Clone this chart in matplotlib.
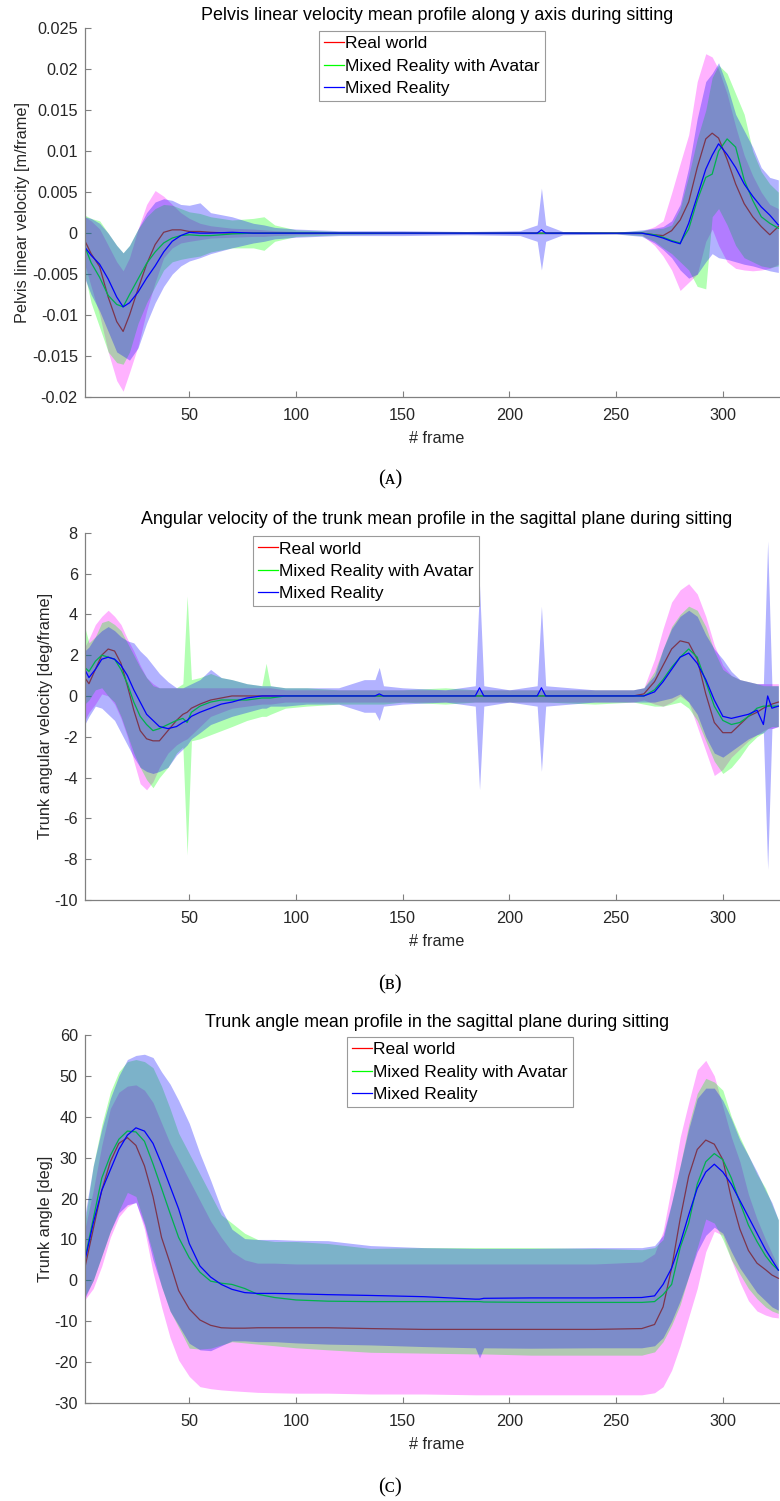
import numpy as np
import matplotlib
matplotlib.use('Agg')
import matplotlib.pyplot as plt

plt.rcParams['font.family'] = ['Liberation Sans', 'DejaVu Sans']

# ---------------------------------------------------------------
# (A) pelvis linear velocity along y, values in 1e-3 m/frame
# ---------------------------------------------------------------
frames_a = [1, 4, 8, 12, 16, 19, 22, 26, 30, 34,
            38, 42, 46, 50, 55, 60, 70, 80, 85, 90,
            100, 120, 150, 180, 205, 213, 215, 217, 225, 250,
            262, 268, 272, 276, 280, 284, 288, 292, 295, 298,
            302, 306, 310, 314, 318, 322, 326]

real_mean_a = [-0.9, -2.5, -4.1, -7.8, -10.8, -12.0, -10.0, -6.8, -3.8, -1.4,
               0.1, 0.4, 0.4, 0.2, 0.2, 0.1, 0.0, 0.0, 0.0, 0.0,
               0.0, 0.0, 0.0, 0.0, 0.0, 0.0, 0.0, 0.0, 0.0, 0.0,
               0.0, -0.2, -0.3, 0.3, 1.6, 3.8, 8.0, 11.5, 12.2, 11.6,
               9.0, 6.0, 3.6, 2.0, 0.8, -0.2, 0.8]
real_up_a = [2.0, 1.5, 0.5, -1.5, -3.5, -4.6, -3.0, 0.5, 3.5, 5.2,
             4.5, 3.5, 2.5, 1.8, 1.2, 0.9, 0.6, 0.5, 0.4, 0.3,
             0.2, 0.1, 0.1, 0.1, 0.1, 0.1, 0.1, 0.1, 0.1, 0.1,
             0.2, 0.8, 1.5, 4.9, 8.5, 12.0, 18.5, 21.9, 21.5, 20.0,
             17.0, 13.0, 9.5, 7.0, 5.0, 3.5, 3.0]
real_lo_a = [-3.8, -6.5, -10.0, -14.5, -18.0, -19.3, -17.0, -13.8, -9.5, -6.0,
             -3.0, -1.8, -1.2, -1.0, -0.8, -0.6, -0.5, -0.4, -0.4, -0.3,
             -0.2, -0.1, -0.1, -0.1, -0.1, -0.1, -0.1, -0.1, -0.1, -0.1,
             -0.2, -1.5, -2.8, -4.5, -7.0, -6.0, -5.0, -1.0, 0.5, -1.5,
             -3.5, -4.3, -4.5, -4.6, -4.5, -4.3, -3.8]

mra_mean_a = [-1.6, -3.6, -5.4, -7.6, -8.7, -9.0, -7.5, -5.6, -3.7, -2.3,
              -1.2, -0.6, -0.3, -0.2, -0.3, -0.3, -0.1, 0.0, 0.0, 0.0,
              0.0, 0.0, 0.0, 0.0, 0.0, 0.0, 0.0, 0.0, 0.0, 0.0,
              0.0, -0.2, -0.5, -0.9, -1.2, 0.5, 4.0, 6.8, 7.2, 10.0,
              11.5, 10.5, 6.5, 4.0, 2.0, 1.2, 0.6]
mra_up_a = [2.2, 1.8, 1.5, 0.0, -1.5, -2.4, -1.5, 0.5, 2.0, 3.0,
            3.5, 3.4, 3.0, 2.6, 2.4, 2.0, 1.6, 1.8, 2.0, 1.0,
            0.4, 0.2, 0.1, 0.1, 0.1, 0.1, 0.1, 0.1, 0.1, 0.1,
            0.3, 0.5, 0.6, 1.0, 3.0, 7.0, 11.5, 15.0, 19.0, 20.5,
            19.5, 17.0, 14.5, 10.0, 7.5, 6.0, 5.0]
mra_lo_a = [-5.0, -8.5, -11.5, -14.5, -15.8, -16.0, -14.5, -11.0, -8.5, -6.5,
            -4.5, -3.5, -3.2, -3.0, -2.8, -2.3, -1.8, -1.8, -2.1, -1.0,
            -0.4, -0.2, -0.1, -0.1, -0.1, -0.1, -0.1, -0.1, -0.1, -0.1,
            -0.3, -1.0, -1.8, -2.5, -3.5, -4.5, -6.5, -6.8, 2.0, 3.0,
            1.0, -1.5, -3.0, -3.5, -4.0, -4.2, -4.0]

mr_mean_a = [-1.7, -2.7, -3.8, -5.6, -7.8, -9.0, -8.5, -7.2, -5.5, -4.0,
             -2.3, -1.0, -0.3, 0.1, 0.0, 0.0, 0.1, 0.0, 0.0, 0.0,
             0.0, 0.0, 0.0, 0.0, 0.0, 0.0, 0.4, 0.0, 0.0, 0.0,
             0.0, -0.3, -0.6, -1.0, -1.3, 1.2, 4.5, 7.8, 9.5, 10.9,
             9.6, 8.0, 6.0, 4.5, 3.2, 2.2, 1.0]
mr_up_a = [2.0, 1.8, 1.2, 0.0, -1.5, -2.4, -1.5, 0.5, 2.5, 3.8,
           4.2, 4.0, 3.5, 3.4, 3.7, 2.5, 2.0, 1.2, 1.0, 0.7,
           0.5, 0.3, 0.3, 0.2, 0.3, 1.0, 5.5, 1.0, 0.2, 0.1,
           0.4, 0.6, 0.8, 1.5, 3.5, 8.0, 14.0, 18.5, 19.5, 20.8,
           18.0, 14.5, 12.5, 10.5, 8.0, 6.8, 6.5]
mr_lo_a = [-5.5, -7.5, -9.5, -12.0, -14.5, -15.0, -15.5, -14.0, -11.0, -8.5,
           -6.5, -5.0, -4.0, -3.4, -3.0, -2.5, -1.8, -1.2, -1.0, -0.7,
           -0.5, -0.3, -0.3, -0.2, -0.3, -1.0, -4.5, -1.0, -0.2, -0.1,
           -0.4, -1.2, -2.0, -3.0, -4.5, -5.5, -5.0, -3.5, -2.5, -3.0,
           -3.2, -3.5, -3.8, -4.0, -4.3, -4.6, -4.8]

# ---------------------------------------------------------------
# (B) trunk angular velocity, deg/frame
# ---------------------------------------------------------------
frames_b = [1, 3, 6, 9, 12, 15, 18, 21, 24, 27,
            30, 33, 36, 40, 44, 47, 49, 51, 55, 60,
            65, 70, 77, 84, 86, 88, 95, 105, 120, 132,
            137, 139, 141, 150, 170, 184, 186, 188, 200, 213,
            215, 217, 240, 258, 263, 268, 272, 276, 280, 284,
            288, 292, 296, 300, 304, 308, 312, 316, 319, 321,
            323, 326]

real_mean_b = [0.9, 0.6, 1.3, 2.0, 2.3, 2.2, 1.6, 0.5, -0.7, -1.7,
               -2.1, -2.2, -2.2, -1.7, -1.2, -0.9, -0.8, -0.6, -0.4, -0.2,
               -0.1, 0.0, 0.0, 0.0, 0.0, 0.0, 0.0, 0.0, 0.0, 0.0,
               0.0, 0.0, 0.0, 0.0, 0.0, 0.0, 0.0, 0.0, 0.0, 0.0,
               0.0, 0.0, 0.0, 0.0, 0.1, 0.7, 1.5, 2.3, 2.7, 2.6,
               1.8, 0.1, -1.3, -1.8, -1.8, -1.4, -1.0, -0.8, -0.6, -0.5,
               -0.4, -0.3]
real_up_b = [2.4, 2.8, 3.5, 3.9, 4.2, 3.9, 3.5, 2.8, 2.2, 1.5,
             0.9, 0.6, 0.4, 0.4, 0.4, 0.4, 0.4, 0.4, 0.4, 0.4,
             0.4, 0.4, 0.4, 0.4, 0.4, 0.4, 0.3, 0.3, 0.3, 0.3,
             0.3, 0.3, 0.3, 0.3, 0.3, 0.3, 0.3, 0.3, 0.3, 0.3,
             0.3, 0.3, 0.3, 0.3, 0.4, 1.8, 3.3, 4.6, 5.2, 5.5,
             5.0, 3.9, 2.5, 1.5, 1.0, 0.8, 0.7, 0.6, 0.6, 0.6,
             0.6, 0.6]
real_lo_b = [-1.2, -0.8, -0.4, 0.1, 0.0, -0.4, -1.1, -2.0, -3.2, -4.3,
             -4.6, -4.2, -3.5, -2.8, -2.4, -2.2, -2.1, -1.9, -1.5, -1.0,
             -0.8, -0.6, -0.5, -0.4, -0.4, -0.4, -0.3, -0.3, -0.3, -0.3,
             -0.3, -0.3, -0.3, -0.3, -0.3, -0.3, -0.3, -0.3, -0.3, -0.3,
             -0.3, -0.3, -0.3, -0.3, -0.2, -0.4, -0.5, -0.3, 0.0, -0.3,
             -1.5, -2.7, -3.9, -3.6, -3.0, -2.6, -2.2, -1.9, -1.7, -1.6,
             -1.6, -1.5]

mra_mean_b = [1.4, 1.2, 1.7, 2.0, 1.9, 1.8, 1.3, 0.6, -0.3, -1.0,
              -1.4, -1.7, -1.6, -1.4, -1.2, -1.1, -1.3, -0.8, -0.5, -0.3,
              -0.2, -0.2, -0.2, -0.1, -0.1, -0.1, 0.0, 0.0, 0.0, 0.0,
              0.0, 0.0, 0.0, 0.0, 0.0, 0.0, 0.0, 0.0, 0.0, 0.0,
              0.0, 0.0, 0.0, 0.0, 0.0, 0.3, 0.8, 1.4, 1.9, 2.3,
              1.9, 0.7, -0.5, -1.2, -1.4, -1.3, -1.0, -0.6, -0.5, -0.5,
              -0.5, -0.5]
mra_up_b = [3.4, 2.6, 2.9, 3.6, 3.7, 3.5, 3.2, 2.6, 2.0, 1.4,
            0.9, 0.5, 0.4, 0.4, 0.4, 0.6, 4.9, 0.8, 0.9, 1.1,
            0.9, 0.8, 0.6, 0.5, 1.6, 0.5, 0.4, 0.4, 0.3, 0.3,
            0.3, 0.3, 0.3, 0.3, 0.4, 0.3, 0.3, 0.3, 0.3, 0.3,
            0.3, 0.3, 0.3, 0.3, 0.4, 1.2, 2.3, 3.4, 4.0, 4.4,
            4.2, 3.4, 2.2, 1.3, 1.0, 0.8, 0.7, 0.6, 0.5, 0.5,
            0.5, 0.5]
mra_lo_b = [-0.4, -0.2, 0.3, 0.4, 0.0, -0.3, -1.0, -1.9, -2.8, -3.5,
            -4.1, -4.5, -4.0, -3.5, -2.8, -2.5, -7.8, -2.2, -2.1, -1.9,
            -1.7, -1.5, -1.2, -1.0, -1.0, -0.9, -0.6, -0.5, -0.4, -0.4,
            -0.4, -0.4, -0.4, -0.3, -0.4, -0.3, -0.3, -0.3, -0.3, -0.3,
            -0.3, -0.3, -0.4, -0.3, -0.4, -0.5, -0.5, -0.4, -0.3, -0.6,
            -1.2, -2.2, -3.2, -3.8, -3.5, -3.0, -2.4, -2.0, -1.8, -1.6,
            -1.5, -1.5]

mr_mean_b = [1.3, 0.9, 1.3, 1.8, 1.9, 1.8, 1.5, 1.0, 0.3, -0.3,
             -0.9, -1.2, -1.5, -1.6, -1.5, -1.3, -1.2, -1.0, -0.8, -0.6,
             -0.4, -0.3, -0.1, 0.0, 0.0, 0.0, 0.0, 0.0, 0.0, 0.0,
             0.0, 0.1, 0.0, 0.0, 0.0, 0.0, 0.4, 0.0, 0.0, 0.0,
             0.4, 0.0, 0.0, 0.0, 0.0, 0.2, 0.7, 1.3, 1.9, 2.1,
             1.6, 0.8, -0.2, -1.0, -1.1, -1.0, -0.9, -0.7, -1.4, 0.0,
             -0.6, -0.5]
mr_up_b = [2.2, 2.4, 2.9, 3.2, 3.4, 3.2, 2.9, 2.7, 2.6, 2.2,
           1.9, 1.5, 1.1, 0.7, 0.4, 0.4, 0.5, 0.6, 0.8, 1.3,
           0.9, 0.8, 0.6, 0.5, 0.5, 0.5, 0.4, 0.4, 0.4, 0.8,
           0.8, 1.4, 0.5, 0.4, 0.3, 0.5, 5.4, 0.5, 0.3, 0.5,
           4.4, 0.5, 0.3, 0.3, 0.4, 1.0, 2.3, 3.3, 3.9, 4.2,
           3.9, 3.0, 2.3, 1.8, 1.2, 0.8, 0.7, 0.6, 0.6, 7.6,
           0.5, 0.5]
mr_lo_b = [-1.4, -1.0, -0.5, -0.6, -0.9, -1.2, -1.8, -2.4, -3.0, -3.5,
           -3.7, -3.8, -3.7, -3.5, -2.9, -2.6, -2.4, -2.1, -1.8, -1.4,
           -1.2, -1.0, -0.8, -0.6, -0.6, -0.5, -0.5, -0.4, -0.4, -0.8,
           -0.8, -1.2, -0.5, -0.4, -0.3, -0.5, -4.6, -0.5, -0.3, -0.5,
           -3.7, -0.5, -0.3, -0.3, -0.3, -0.3, -0.2, -0.1, 0.1, -0.3,
           -0.9, -2.0, -2.8, -3.0, -2.7, -2.4, -2.1, -1.9, -1.8, -8.5,
           -1.6, -1.5]

# ---------------------------------------------------------------
# (C) trunk angle, deg
# ---------------------------------------------------------------
frames_c = [1, 5, 9, 13, 17, 21, 25, 29, 33, 37,
            41, 45, 50, 55, 60, 65, 70, 76, 82, 90,
            100, 115, 135, 160, 184, 186, 188, 210, 240, 262,
            268, 272, 276, 280, 284, 288, 292, 296, 300, 304,
            308, 312, 316, 320, 323, 326]

real_mean_c = [2.9, 12.5, 22.0, 29.0, 33.5, 34.9, 33.0, 28.0, 20.5, 10.5,
               4.2, -2.5, -7.0, -9.7, -11.0, -11.6, -11.7, -11.7, -11.6, -11.6,
               -11.6, -11.6, -11.8, -12.0, -12.0, -12.0, -12.0, -12.0, -12.0, -11.8,
               -10.8, -6.5, 3.0, 15.0, 25.5, 32.0, 34.3, 33.3, 29.5, 20.0,
               12.5, 7.3, 4.2, 2.6, 1.3, 0.5]
real_up_c = [12.3, 22.0, 33.0, 42.0, 46.0, 47.5, 47.8, 46.5, 43.5, 38.5,
             33.5, 29.5, 24.5, 19.5, 14.5, 10.5, 7.0, 5.0, 4.2, 4.2,
             4.0, 4.0, 4.0, 4.0, 4.0, 4.0, 4.0, 4.0, 4.0, 4.5,
             6.5, 12.0, 23.0, 35.0, 43.5, 51.5, 53.8, 50.0, 42.5, 35.0,
             29.0, 21.0, 15.0, 10.0, 6.6, 3.3]
real_lo_c = [-4.8, -2.0, 3.5, 10.5, 15.5, 18.0, 19.2, 12.5, 2.0, -6.5,
             -14.0, -19.5, -23.5, -26.0, -26.5, -26.8, -27.0, -27.2, -27.4, -27.5,
             -27.6, -27.6, -27.8, -27.8, -28.0, -28.0, -28.0, -28.0, -28.0, -28.0,
             -27.5, -26.0, -22.0, -16.0, -9.0, -2.0, 7.0, 12.0, 11.0, 5.0,
             -0.5, -5.0, -7.5, -8.5, -9.0, -9.2]

mra_mean_c = [5.0, 15.0, 25.0, 30.5, 34.5, 36.5, 36.3, 34.0, 28.5, 22.5,
              16.4, 10.5, 5.5, 2.0, -0.2, -0.7, -1.0, -2.0, -3.4, -4.2,
              -4.8, -5.1, -5.2, -5.2, -5.2, -5.2, -5.3, -5.4, -5.4, -5.4,
              -5.2, -3.5, -1.0, 8.0, 14.0, 23.5, 29.0, 31.0, 29.5, 25.0,
              19.0, 13.5, 9.5, 6.0, 4.0, 2.5]
mra_up_c = [13.9, 28.0, 38.0, 46.0, 51.0, 53.5, 54.0, 53.5, 52.0, 47.5,
            42.0, 36.0, 31.0, 26.0, 21.0, 16.0, 14.0, 11.5, 10.0, 9.5,
            9.5, 9.0, 7.8, 8.0, 8.0, 8.0, 8.0, 8.0, 7.8, 7.5,
            8.0, 10.0, 18.8, 28.0, 38.0, 45.7, 49.4, 48.5, 46.5, 40.0,
            35.0, 30.5, 26.0, 22.5, 18.5, 14.8]
mra_lo_c = [-4.0, 0.0, 6.0, 12.0, 17.0, 21.5, 20.5, 14.0, 6.5, -1.5,
            -7.5, -11.5, -16.6, -16.8, -16.6, -15.8, -15.0, -15.3, -15.6, -16.0,
            -16.5, -17.0, -17.6, -17.8, -18.0, -18.0, -18.0, -18.3, -18.3, -18.3,
            -17.5, -15.0, -11.0, -6.0, 1.0, 8.0, 15.0, 14.0, 10.0, 5.0,
            1.5, -2.0, -4.5, -6.5, -7.5, -8.1]

mr_mean_c = [4.6, 14.0, 22.0, 27.0, 32.0, 35.5, 37.3, 36.5, 33.5, 28.5,
             23.0, 17.5, 9.0, 3.5, 0.8, -1.0, -2.2, -3.0, -3.2, -3.2,
             -3.3, -3.5, -3.7, -4.0, -4.6, -4.6, -4.4, -4.3, -4.3, -4.2,
             -3.8, -1.0, 3.0, 9.0, 16.0, 22.5, 26.5, 28.4, 26.5, 23.5,
             19.5, 15.5, 11.5, 7.5, 5.0, 2.5]
mr_up_c = [15.6, 28.0, 37.0, 44.5, 50.0, 54.0, 55.0, 55.3, 54.5, 51.0,
           48.0, 44.0, 38.4, 31.0, 24.5, 17.5, 12.5, 10.2, 10.0, 10.0,
           9.8, 9.7, 8.5, 8.0, 7.8, 7.8, 7.8, 7.8, 8.0, 8.0,
           8.5, 11.0, 19.0, 28.0, 37.0, 44.5, 47.0, 47.0, 44.0, 39.5,
           34.3, 30.5, 26.5, 22.0, 19.0, 14.8]
mr_lo_c = [-4.4, 0.0, 6.0, 12.0, 16.5, 18.5, 19.0, 13.5, 5.0, -1.5,
           -7.5, -11.0, -15.4, -17.0, -17.2, -16.0, -14.8, -14.8, -15.0, -15.0,
           -15.3, -15.6, -15.8, -16.2, -16.5, -19.0, -16.5, -16.6, -16.5, -16.5,
           -16.0, -14.0, -10.0, -5.0, 1.0, 7.0, 11.0, 13.0, 11.5, 7.0,
           3.0, 0.0, -3.0, -5.0, -6.5, -7.3]

LABELS = ['Real world', 'Mixed Reality with Avatar', 'Mixed Reality']
LINE_COLORS = ['#ff0000', '#00ff00', '#0000ff']
FILL_COLORS = ['#ff00ff', '#00ff00', '#0000ff']
AXIS_GREY = '#808080'
TEXT_GREY = '#262626'
FS = 11.7

W, H = 780, 1501


def fig_rect(left_px, top_px, right_px, bottom_px):
    """pixel box -> figure fraction rect"""
    return [left_px / W, 1 - bottom_px / H, (right_px - left_px) / W, (bottom_px - top_px) / H]


def draw_panel(fig, rect, frames, series, scale, title, ylabel, ylim, yticks, yticklabels, legend_px, caption, caption_y):
    ax = fig.add_axes(rect)
    x = np.array(frames)
    lines = []
    z = 1
    # band then mean, group by group, so later bands tint earlier lines
    for (mean, up, lo), lc, fc in zip(series, LINE_COLORS, FILL_COLORS):
        ax.fill_between(x, np.array(lo) * scale, np.array(up) * scale, color=fc, alpha=0.3, linewidth=0, zorder=z)
        ln, = ax.plot(x, np.array(mean) * scale, color=lc, lw=0.9, zorder=z + 1)
        lines.append(ln)
        z += 2

    ax.set_xlim(1, 331)
    ax.set_ylim(*ylim)
    ax.set_xticks([50, 100, 150, 200, 250, 300])
    ax.set_yticks(yticks)
    ax.set_yticklabels(yticklabels)
    for s in ['top', 'right']:
        ax.spines[s].set_visible(False)
    for s in ['left', 'bottom']:
        ax.spines[s].set_color(AXIS_GREY)
        ax.spines[s].set_linewidth(0.9)
        ax.spines[s].set_zorder(10)
    ax.tick_params(direction='in', length=4, width=0.8, color=AXIS_GREY,
                   labelcolor=TEXT_GREY, labelsize=FS, pad=5)
    ax.tick_params(axis='x', pad=8)

    ax.set_title(title, fontsize=FS * 1.1, pad=6, color='black')
    ax.set_xlabel('# frame', fontsize=FS, color=TEXT_GREY, labelpad=6)
    ax.set_ylabel(ylabel, fontsize=FS, color=TEXT_GREY, labelpad=1)

    leg = ax.legend(lines, LABELS, loc='upper left',
                    bbox_to_anchor=(legend_px[0] / W, 1 - legend_px[1] / H),
                    bbox_transform=fig.transFigure, fontsize=12.6,
                    fancybox=False, framealpha=1, edgecolor='#9a9a9a',
                    borderpad=0.3, borderaxespad=0, handlelength=1.1,
                    handletextpad=0.1, labelspacing=0.4)
    leg.get_frame().set_linewidth(0.8)
    leg.set_zorder(20)

    fig.text(390 / W, 1 - caption_y / H, caption, ha='center', va='center',
             fontsize=15, family=['Liberation Serif', 'DejaVu Serif', 'DejaVu Sans'])
    return ax


fig = plt.figure(figsize=(W / 100, H / 100), dpi=100)

draw_panel(fig, fig_rect(84.7, 28.3, 789, 397), frames_a,
           [(real_mean_a, real_up_a, real_lo_a),
            (mra_mean_a, mra_up_a, mra_lo_a),
            (mr_mean_a, mr_up_a, mr_lo_a)], 1e-3,
           'Pelvis linear velocity mean profile along y axis during sitting',
           'Pelvis linear velocity [m/frame]', (-0.02, 0.025),
           [-0.02, -0.015, -0.01, -0.005, 0, 0.005, 0.01, 0.015, 0.02, 0.025],
           ['-0.02', '-0.015', '-0.01', '-0.005', '0', '0.005', '0.01', '0.015', '0.02', '0.025'],
           (319, 31), '(\u1d00)', 480)

draw_panel(fig, fig_rect(84.7, 532.7, 789, 900), frames_b,
           [(real_mean_b, real_up_b, real_lo_b),
            (mra_mean_b, mra_up_b, mra_lo_b),
            (mr_mean_b, mr_up_b, mr_lo_b)], 1.0,
           'Angular velocity of the trunk mean profile in the sagittal plane during sitting',
           'Trunk angular velocity [deg/frame]', (-10, 8),
           list(range(-10, 9, 2)), [str(v) for v in range(-10, 9, 2)],
           (253, 536), '(\u0299)', 985)

draw_panel(fig, fig_rect(84.7, 1035, 789, 1403), frames_c,
           [(real_mean_c, real_up_c, real_lo_c),
            (mra_mean_c, mra_up_c, mra_lo_c),
            (mr_mean_c, mr_up_c, mr_lo_c)], 1.0,
           'Trunk angle mean profile in the sagittal plane during sitting',
           'Trunk angle [deg]', (-30, 60),
           list(range(-30, 61, 10)), [str(v) for v in range(-30, 61, 10)],
           (347, 1037), '(\u1d04)', 1488)

fig.savefig('out.png', dpi=100)
